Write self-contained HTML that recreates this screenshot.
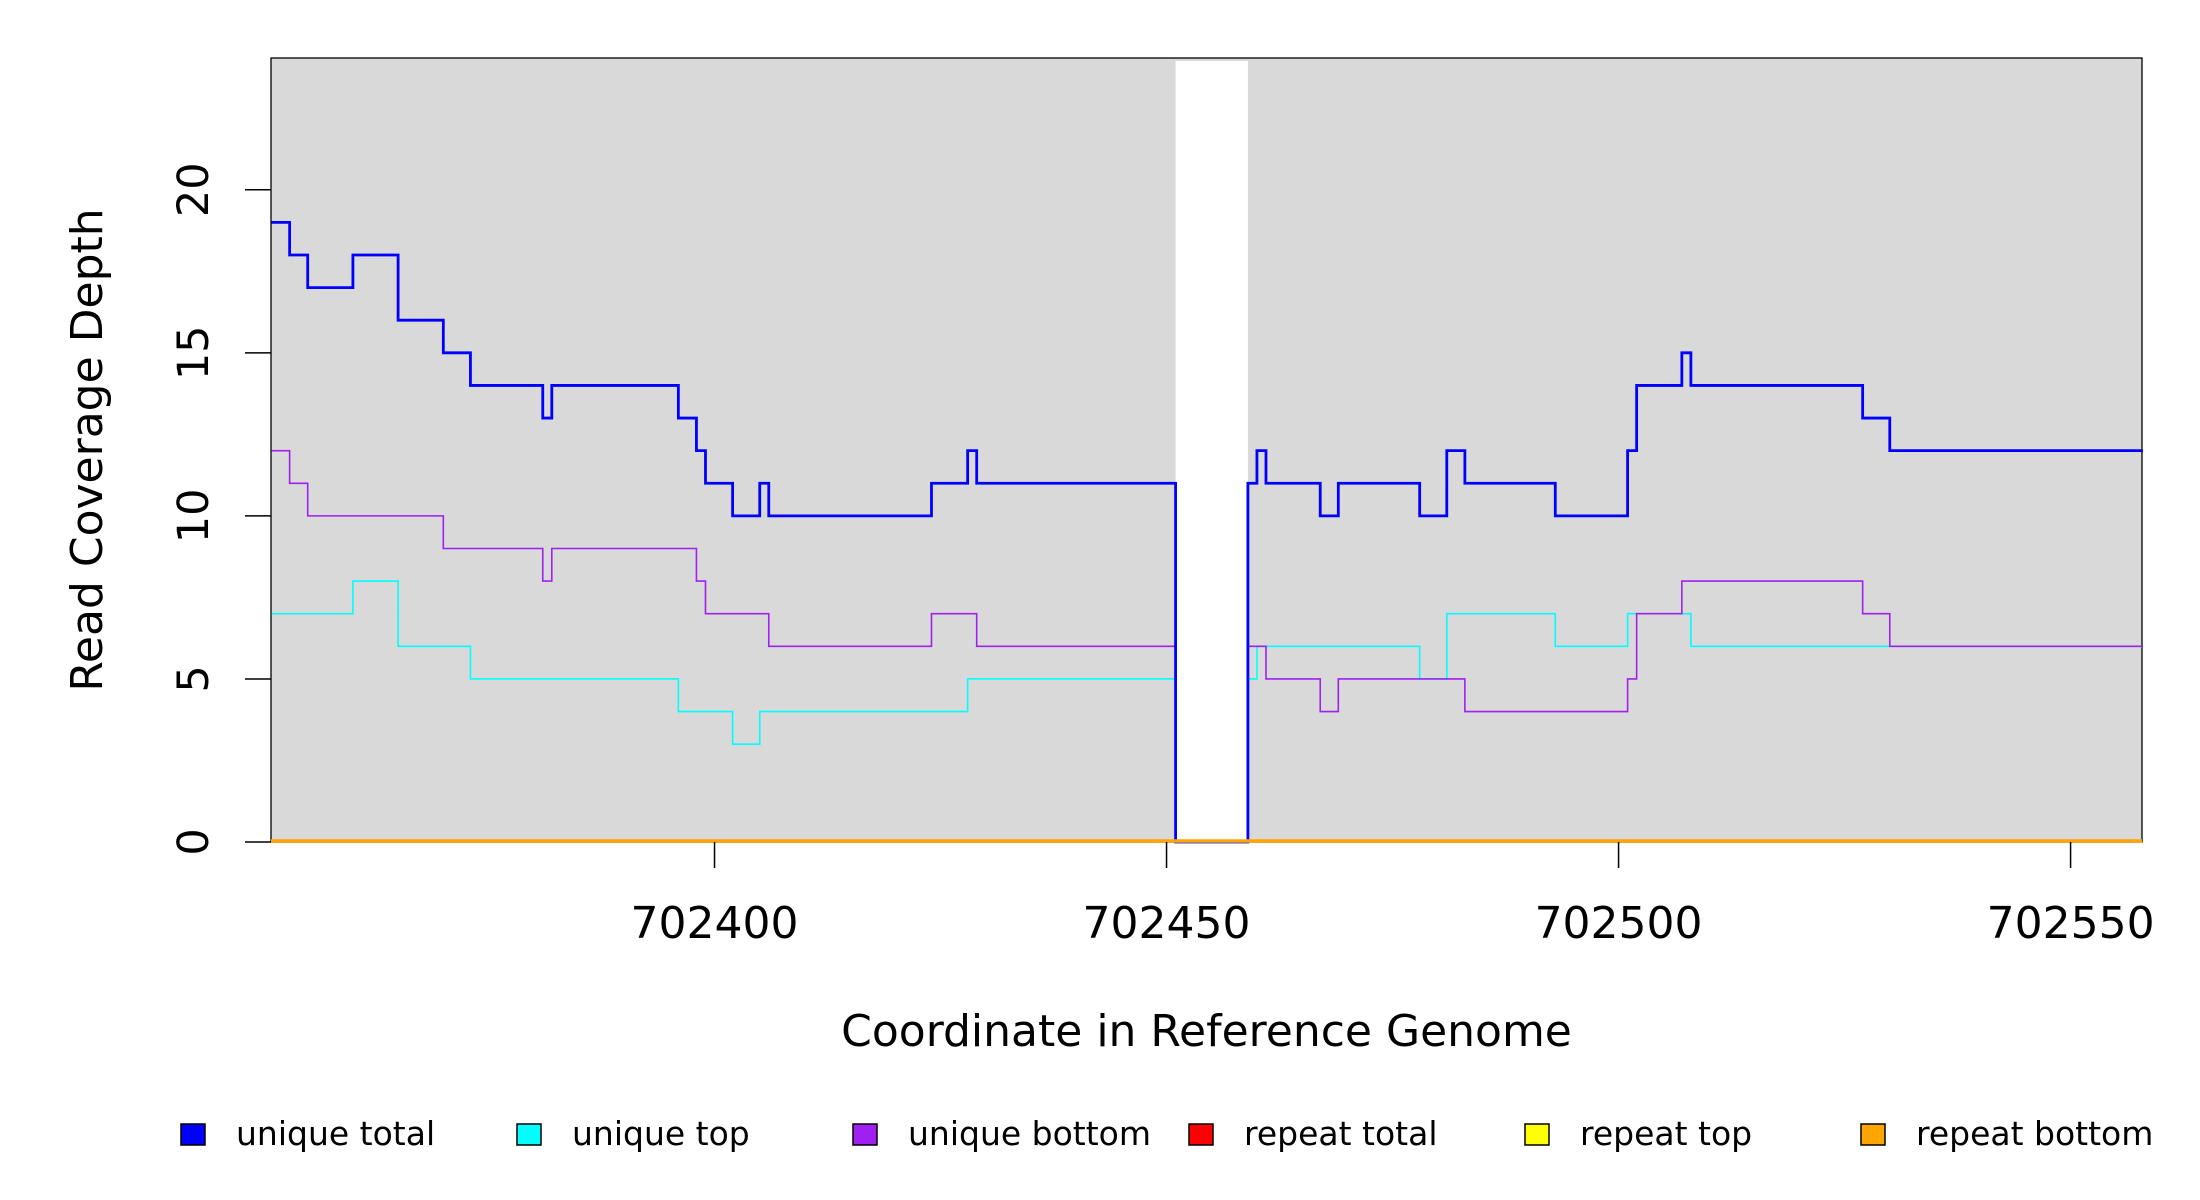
<!DOCTYPE html>
<html><head><meta charset="utf-8"><style>
html,body{margin:0;padding:0;background:#fff;}
svg{display:block;font-family:"DejaVu Sans","Liberation Sans",sans-serif;}
</style></head><body>
<svg id="chart" width="2200" height="1200" viewBox="0 0 2200 1200" xmlns="http://www.w3.org/2000/svg">
<g id="plot"></g>
<g id="axes"></g>
<g id="legend"></g>
</svg>
<script>
const xTicks = [702400, 702450, 702500, 702550];
const yTicks = [0, 5, 10, 15, 20];
const gapRange = [702451, 702459];
const totalBreaks = [702351,702353,702355,702360,702365,702370,702373,702381,702382,702396,702398,702399,702402,702405,702406,702424,702428,702429,702451,702459,702460,702461,702467,702469,702478,702481,702483,702493,702501,702502,702507,702508,702527,702530,702558];
const totalValues = [19,18,17,18,16,15,14,13,14,13,12,11,10,11,10,11,12,11,0,11,12,11,10,11,10,12,11,10,12,14,15,14,13,12];
const topBreaks = [702351,702360,702365,702373,702396,702402,702405,702428,702451,702459,702460,702478,702481,702493,702501,702508,702558];
const topValues = [7,8,6,5,4,3,4,5,0,5,6,5,7,6,7,6];
const bottomBreaks = [702351,702353,702355,702370,702381,702382,702398,702399,702406,702424,702429,702451,702459,702461,702467,702469,702483,702501,702502,702507,702527,702530,702558];
const bottomValues = [12,11,10,9,8,9,8,7,6,7,6,0,6,5,4,5,4,5,7,8,7,6];
const legendLabels = ["unique total","unique top","unique bottom","repeat total","repeat top","repeat bottom"];
const legendColors = ["#0000ff","#00ffff","#a020f0","#ff0000","#ffff00","#ffa500"];

const NS = "http://www.w3.org/2000/svg";
const L = 271, R = 2142, T = 58, B = 842;
const xMin = 702350.94, xMax = 702557.9, yMin = 0, yMax = 24.04;
const sx = v => L + (v - xMin) / (xMax - xMin) * (R - L);
const sy = v => B - (v - yMin) / (yMax - yMin) * (B - T);
function mk(tag, attrs, parent){ const e = document.createElementNS(NS, tag); for (const k in attrs) e.setAttribute(k, attrs[k]); parent.appendChild(e); return e; }
const plot = document.getElementById('plot'), axes = document.getElementById('axes'), legend = document.getElementById('legend');

const bg = mk('rect', {x:L, y:T, width:R-L, height:B-T, fill:'#d9d9d9'}, plot);


const gap = mk('rect', {x:sx(gapRange[0]), y:T+3, width:sx(gapRange[1])-sx(gapRange[0]), height:B-T-3, fill:'#ffffff'}, plot);



function stepPath(br, vals){
  let d = '';
  for (let i = 0; i < vals.length; i++){
    const x0 = sx(br[i]), x1 = sx(br[i+1]), y = sy(vals[i]);
    d += (i === 0 ? 'M' : 'L') + x0 + ',' + y + 'L' + x1 + ',' + y;
  }
  return d;
}
const frame = mk('rect', {x:L, y:T, width:R-L, height:B-T, fill:'none', stroke:'#000', 'stroke-width':1.3}, plot);


const pTop = mk('path', {d:stepPath(topBreaks, topValues), fill:'none', stroke:'#00ffff', 'stroke-width':1.6}, plot);


const pBot = mk('path', {d:stepPath(bottomBreaks, bottomValues), fill:'none', stroke:'#a020f0', 'stroke-width':1.6}, plot);


const pTot = mk('path', {d:stepPath(totalBreaks, totalValues), fill:'none', stroke:'#0000ff', 'stroke-width':2.8}, plot);


const rep = mk('line', {x1:L, x2:R, y1:sy(0)-1, y2:sy(0)-1, stroke:'#ffa500', 'stroke-width':3.5}, plot);



yTicks.forEach(v => {
  const y = sy(v);
  const t = mk('line', {x1:L-26, x2:L, y1:y, y2:y, stroke:'#000', 'stroke-width':1.5}, axes);
  
  
  const tx = mk('text', {x:0, y:0, transform:`translate(208,${y}) rotate(-90)`, 'text-anchor':'middle', 'font-size':43, fill:'#000'}, axes);
  tx.textContent = v;
  
  
});
xTicks.forEach(v => {
  const x = sx(v);
  const t = mk('line', {x1:x, x2:x, y1:B, y2:B+26, stroke:'#000', 'stroke-width':1.5}, axes);
  
  
  const tx = mk('text', {x:x, y:938, 'text-anchor':'middle', 'font-size':44, fill:'#000'}, axes);
  tx.textContent = v;
  
  
});
const xt = mk('text', {x:(L+R)/2, y:1046, 'text-anchor':'middle', 'font-size':44, fill:'#000'}, axes);
xt.textContent = 'Coordinate in Reference Genome';


const yt = mk('text', {x:0, y:0, transform:`translate(102,450) rotate(-90)`, 'text-anchor':'middle', 'font-size':44, fill:'#000'}, axes);
yt.textContent = 'Read Coverage Depth';



legendLabels.forEach((lab, i) => {
  const x0 = 181 + i * 336;
  const g = mk('g', {}, legend);
  
  
  mk('rect', {x:x0, y:1124, width:24, height:21, fill:legendColors[i], stroke:'#000', 'stroke-width':1.5}, g);
  const tx = mk('text', {x:x0+55, y:1145, 'font-size':33, fill:'#000'}, g);
  tx.textContent = lab;
});
</script>
</body></html>
